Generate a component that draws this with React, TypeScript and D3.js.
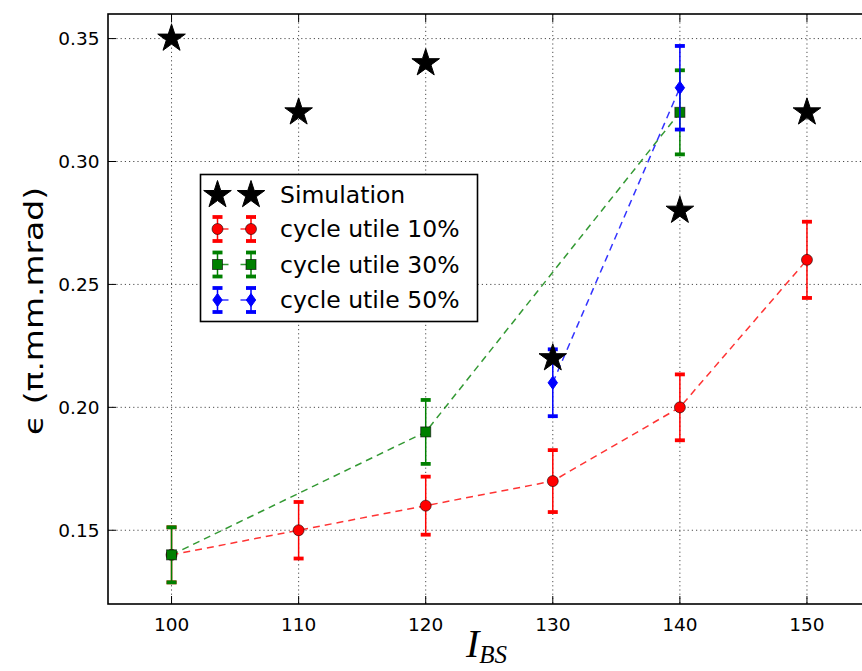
import React from "react";
import * as d3 from "d3";

const xTicks = [100, 110, 120, 130, 140, 150];
const yTicks = [0.15, 0.2, 0.25, 0.3, 0.35];
const yTickLabels = ["0.15", "0.20", "0.25", "0.30", "0.35"];

const simX = [100, 110, 120, 130, 140, 150];
const simY = [0.35, 0.32, 0.34, 0.22, 0.28, 0.32];

const redX = [100, 110, 120, 130, 140, 150];
const redY = [0.14, 0.15, 0.16, 0.17, 0.2, 0.26];
const redErr = [0.0112, 0.0115, 0.0118, 0.0126, 0.0134, 0.0155];

const greenX = [100, 120, 140];
const greenY = [0.14, 0.19, 0.32];
const greenErr = [0.0112, 0.013, 0.0171];

const blueX = [130, 140];
const blueY = [0.21, 0.33];
const blueErr = [0.0136, 0.017];

const legendLabels = ["Simulation", "cycle utile 10%", "cycle utile 30%", "cycle utile 50%"];

const W = 862;
const H = 671;
const L = 108, T = 14, B = 604, R = 870.5;

const x = d3.scaleLinear().domain([95, 155]).range([L, R]);
const y = d3.scaleLinear().domain([0.12, 0.36]).range([B, T]);

function starPath(cx: number, cy: number, ro: number) {
  const ri = ro * 0.381966;
  const pts: [number, number][] = [];
  for (let i = 0; i < 10; i++) {
    const a = -Math.PI / 2 + (i * Math.PI) / 5;
    const r = i % 2 === 0 ? ro : ri;
    pts.push([cx + r * Math.cos(a), cy + r * Math.sin(a)]);
  }
  return "M" + pts.map((p) => p.join(",")).join("L") + "Z";
}

type Kind = "circle" | "square" | "diamond";

function Marker({ kind, cx, cy, color }: { kind: Kind; cx: number; cy: number; color: string }) {
  if (kind === "circle")
    return <circle cx={cx} cy={cy} r={5.5} fill={color} stroke="#000" strokeOpacity={0.55} strokeWidth={1} />;
  if (kind === "square")
    return <rect x={cx - 5} y={cy - 5} width={10} height={10} fill={color} stroke="#000" strokeOpacity={0.6} strokeWidth={1} />;
  return (
    <path
      d={`M${cx},${cy - 6.5}L${cx + 4.7},${cy}L${cx},${cy + 6.5}L${cx - 4.7},${cy}Z`}
      fill={color}
      stroke={color}
      strokeWidth={1}
    />
  );
}

function Series({ xs, ys, errs, color, kind }: { xs: number[]; ys: number[]; errs: number[]; color: string; kind: Kind }) {
  const line = d3
    .line<number>()
    .x((_, i) => x(xs[i]))
    .y((d) => y(d));
  return (
    <g>
      <path d={line(ys) || ""} fill="none" stroke={color} strokeOpacity={0.8} strokeWidth={1.5} strokeDasharray="7,5" />
      {ys.map((v, i) => {
        const cx = x(xs[i]);
        const y1 = y(v + errs[i]);
        const y2 = y(v - errs[i]);
        return (
          <g key={i}>
            <line x1={cx} x2={cx} y1={y1} y2={y2} stroke={color} strokeWidth={1.5} />
            <line x1={cx - 5} x2={cx + 5} y1={y1} y2={y1} stroke={color} strokeWidth={3.8} />
            <line x1={cx - 5} x2={cx + 5} y1={y2} y2={y2} stroke={color} strokeWidth={3.8} />
          </g>
        );
      })}
      {ys.map((v, i) => (
        <Marker key={"m" + i} kind={kind} cx={x(xs[i])} cy={y(v)} color={color} />
      ))}
    </g>
  );
}

export default function App() {
  const font = "'DejaVu Sans', sans-serif";
  const legendRows = [
    { label: legendLabels[0], color: "#000", kind: "star" },
    { label: legendLabels[1], color: "#ff0000", kind: "circle" },
    { label: legendLabels[2], color: "#008000", kind: "square" },
    { label: legendLabels[3], color: "#0000ff", kind: "diamond" },
  ];
  const rowY = [195, 229, 264.5, 300];
  const lx1 = 217.5, lx2 = 251;
  return (
    <svg width={W} height={H} style={{ position: "absolute", left: 0, top: 0, background: "#fff" }}>
      <rect x={0} y={0} width={W} height={H} fill="#fff" />
      {/* grid */}
      {xTicks.map((t) => (
        <line key={"gx" + t} x1={x(t)} x2={x(t)} y1={T} y2={B} stroke="#000" strokeOpacity={0.7} strokeWidth={1} strokeDasharray="1.2,3" />
      ))}
      {yTicks.map((t) => (
        <line key={"gy" + t} x1={L} x2={R} y1={y(t)} y2={y(t)} stroke="#000" strokeOpacity={0.7} strokeWidth={1} strokeDasharray="1.2,3" />
      ))}
      {/* series */}
      <Series xs={redX} ys={redY} errs={redErr} color="#ff0000" kind="circle" />
      <Series xs={greenX} ys={greenY} errs={greenErr} color="#008000" kind="square" />
      <Series xs={blueX} ys={blueY} errs={blueErr} color="#0000ff" kind="diamond" />
      {simY.map((v, i) => (
        <path key={"s" + i} d={starPath(x(simX[i]), y(v), 14.5)} fill="#000" stroke="#000" strokeWidth={1} />
      ))}
      {/* frame */}
      <rect x={L} y={T} width={R - L} height={B - T} fill="none" stroke="#000" strokeWidth={1.6} />
      {/* ticks */}
      {xTicks.map((t) => (
        <g key={"tx" + t}>
          <line x1={x(t)} x2={x(t)} y1={B} y2={B - 8} stroke="#000" strokeWidth={1} />
          <line x1={x(t)} x2={x(t)} y1={T} y2={T + 8} stroke="#000" strokeWidth={1} />
          <text x={x(t)} y={631} textAnchor="middle" fontFamily={font} fontSize={18.5} fill="#000">
            {t}
          </text>
        </g>
      ))}
      {yTicks.map((t, i) => (
        <g key={"ty" + t}>
          <line x1={L} x2={L + 8} y1={y(t)} y2={y(t)} stroke="#000" strokeWidth={1} />
          <text x={99.5} y={y(t) + 6.8} textAnchor="end" fontFamily={font} fontSize={18.5} fill="#000">
            {yTickLabels[i]}
          </text>
        </g>
      ))}
      {/* axis labels */}
      <text
        transform={`translate(43,${(T + B) / 2 + 2}) rotate(-90)`}
        textAnchor="middle"
        fontFamily={font}
        fontSize={26}
        textLength={248}
        lengthAdjust="spacingAndGlyphs"
        fill="#000"
      >
        {"\u03F5 (\u03C0.mm.mrad)"}
      </text>
      <text x={466} y={657} fontFamily="'Liberation Serif', 'DejaVu Serif', serif" fontStyle="italic" fontSize={40} fill="#000">
        I
        <tspan fontSize={25} dy={6}>
          BS
        </tspan>
      </text>
      {/* legend */}
      <rect x={200.5} y={174.5} width={277} height={147} fill="#fff" stroke="#000" strokeWidth={1.6} />
      {legendRows.map((r, i) => {
        const cy = rowY[i];
        if (r.kind === "star") {
          return (
            <g key={"l" + i}>
              <path d={starPath(lx1, cy, 14.5)} fill="#000" stroke="#000" />
              <path d={starPath(lx2, cy, 14.5)} fill="#000" stroke="#000" />
              <text x={280} y={cy + 8} fontFamily={font} fontSize={23.5} fill="#000">
                {r.label}
              </text>
            </g>
          );
        }
        return (
          <g key={"l" + i}>
            <line x1={lx1} x2={lx2} y1={cy} y2={cy} stroke={r.color} strokeOpacity={0.8} strokeWidth={1.5} strokeDasharray="11,12" />
            {[lx1, lx2].map((cx, j) => (
              <g key={j}>
                <line x1={cx} x2={cx} y1={cy - 12} y2={cy + 12} stroke={r.color} strokeWidth={1.5} />
                <line x1={cx - 5} x2={cx + 5} y1={cy - 12} y2={cy - 12} stroke={r.color} strokeWidth={3.8} />
                <line x1={cx - 5} x2={cx + 5} y1={cy + 12} y2={cy + 12} stroke={r.color} strokeWidth={3.8} />
                <Marker kind={r.kind as Kind} cx={cx} cy={cy} color={r.color} />
              </g>
            ))}
            <text x={280} y={cy + 8} fontFamily={font} fontSize={23.5} fill="#000">
              {r.label}
            </text>
          </g>
        );
      })}
    </svg>
  );
}
